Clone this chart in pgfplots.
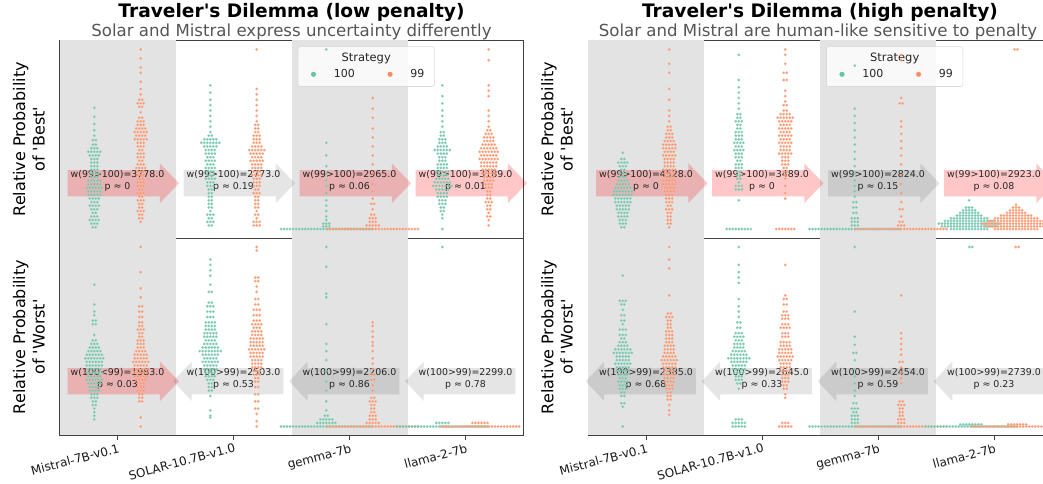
\documentclass[border=0pt]{standalone}
\usepackage{pgfplots}
\usepackage{pgfplotstable}
\pgfplotsset{compat=1.18}
\usepackage{fontspec}
\setmainfont{DejaVu Sans}[Ligatures=TeXOff]
\definecolor{cgreen}{HTML}{66C2A5}
\definecolor{corange}{HTML}{FC8D62}
\definecolor{band}{gray}{0.89}
\definecolor{subgray}{HTML}{555555}

\pgfplotstableread{
dx y
-15 0
-14 0
-13 0
-12 0
-11 0
-10 0
-9 0
-8 0
-7 0
-6 0
-5 0
-4 0
-3 0
-2 0
-1 0
0 0
1 0
2 0
3 0
4 0
5 0
6 0
7 0
8 0
9 0
10 0
11 0
12 0
13 0
14 0
15 0
}\zrow

\pgfplotsset{
 panel/.style={scale only axis, width=464pt, height=197.5pt,
   xmin=-0.5, xmax=3.5, ymin=-0.05, ymax=1.05,
   ytick=\empty, xtick=\empty, clip=false,
   axis line style={black!75, line width=0.9pt}},
 botpanel/.style={panel, xtick={0,1,2,3},
   xticklabels={Mistral-7B-v0.1,SOLAR-10.7B-v1.0,gemma-7b,llama-2-7b},
   xtick align=outside, xtick pos=left, major tick length=4.5pt,
   tick style={black!75, line width=0.9pt},
   xticklabel style={rotate=15, anchor=north east, font=\fontsize{12}{14}\selectfont, text=black!90, inner sep=2pt, xshift=1.5pt, yshift=-1pt}},
 sw/.style 2 args={forget plot, only marks, mark=*, mark size=1.35pt, color=#1,
   mark options={fill=#1, draw=#1!60!white, line width=0.2pt}, opacity=0.9,
   x filter/.expression={#2+0.026*x}},
 toplegend/.style={legend style={at={(0.542,0.829)}, anchor=west, draw=none, fill=none,
   inner sep=0pt, legend columns=2, font=\fontsize{11}{13}\selectfont, text=black!85,
   /tikz/every odd column/.append style={column sep=16pt},
   /tikz/every even column/.append style={column sep=31pt}},
   legend image code/.code={\draw[##1] plot coordinates {(0pt,0pt)};}},
}
\tikzset{
 redA/.style={fill=red, fill opacity=0.22},
 grayA/.style={fill=black, fill opacity=0.1},
 atext/.style={align=center, font=\fontsize{9.4}{11.6}\selectfont, text=black!85, inner sep=0pt},
}
\newcommand{\rarr}[5]{%
 \fill[#2] (axis cs:{#1-0.43},{#3-0.073}) -- (axis cs:{#1+0.365},{#3-0.073}) -- (axis cs:{#1+0.365},{#3-0.11}) -- (axis cs:{#1+0.53},{#3}) -- (axis cs:{#1+0.365},{#3+0.11}) -- (axis cs:{#1+0.365},{#3+0.073}) -- (axis cs:{#1-0.43},{#3+0.073}) -- cycle;
 \node[atext] at (axis cs:{#1},{#3+0.013}) {#4\\#5};}
\newcommand{\larr}[5]{%
 \fill[#2] (axis cs:{#1+0.43},{#3-0.073}) -- (axis cs:{#1-0.36},{#3-0.073}) -- (axis cs:{#1-0.36},{#3-0.11}) -- (axis cs:{#1-0.52},{#3}) -- (axis cs:{#1-0.36},{#3+0.11}) -- (axis cs:{#1-0.36},{#3+0.073}) -- (axis cs:{#1+0.43},{#3+0.073}) -- cycle;
 \node[atext] at (axis cs:{#1},{#3+0.013}) {#4\\#5};}
\newcommand{\bands}{%
 \fill[band] (axis cs:-0.5,-0.05) rectangle (axis cs:0.5,1.05);
 \fill[band] (axis cs:1.5,-0.05) rectangle (axis cs:2.5,1.05);}
\newcommand{\legbox}{%
 \draw[rounded corners=2.5pt, fill=white, fill opacity=0.8, draw=black!15, line width=0.6pt] (rel axis cs:0.514,0.767) rectangle (rel axis cs:0.808,0.969);
 \node[anchor=base, font=\fontsize{11.5}{13}\selectfont, text=black!85] at (rel axis cs:0.661,0.893) {Strategy};
 \addlegendimage{only marks, mark=*, mark size=2.3pt, color=cgreen}
 \addlegendentry{100}
 \addlegendimage{only marks, mark=*, mark size=2.3pt, color=corange}
 \addlegendentry{99}}

\begin{document}
\begin{tikzpicture}
%% ================= TOP LEFT =================
\begin{axis}[panel, toplegend, at={(59.5pt,246pt)}, anchor=south west]
\bands
% Mistral 100
\addplot[sw={cgreen}{-0.2}] coordinates {
(0,0.675)(0,0.625)(0,0.585)(0,0.55)(0,0.52)
(-0.5,0.495)(0.5,0.495)(-0.5,0.47)(0.5,0.47)
(-1,0.45)(0,0.45)(1,0.45)
(-2,0.43)(-1,0.43)(0,0.43)(1,0.43)(2,0.43)
(-1.5,0.41)(-0.5,0.41)(0.5,0.41)(1.5,0.41)
(-1,0.39)(0,0.39)(1,0.39)
(-1,0.37)(0,0.37)(1,0.37)
(-1,0.35)(0,0.35)(1,0.35)
(-1,0.33)(0,0.33)(1,0.33)
(-1.5,0.31)(-0.5,0.31)(0.5,0.31)(1.5,0.31)
(-1,0.29)(0,0.29)(1,0.29)
(-2,0.27)(-1,0.27)(0,0.27)(1,0.27)(2,0.27)
(-2,0.25)(-1,0.25)(0,0.25)(1,0.25)(2,0.25)
(-2.5,0.23)(-1.5,0.23)(-0.5,0.23)(0.5,0.23)(1.5,0.23)(2.5,0.23)
(-2,0.21)(-1,0.21)(0,0.21)(1,0.21)(2,0.21)
(-2,0.19)(-1,0.19)(0,0.19)(1,0.19)(2,0.19)
(-1.5,0.17)(-0.5,0.17)(0.5,0.17)(1.5,0.17)
(-1,0.15)(0,0.15)(1,0.15)
(-1.5,0.13)(-0.5,0.13)(0.5,0.13)(1.5,0.13)
(-1,0.11)(0,0.11)(1,0.11)
(-0.5,0.09)(0.5,0.09)
(-1,0.07)(0,0.07)(1,0.07)
(-1.5,0.05)(-0.5,0.05)(0.5,0.05)(1.5,0.05)
(-1,0.03)(0,0.03)(1,0.03)
(-0.5,0.01)(0.5,0.01)};
% Mistral 99
\addplot[sw={corange}{0.2}] coordinates {
(0,1)(0,0.95)(0,0.9)(0,0.87)(0,0.82)(0,0.78)(0,0.75)
(-0.5,0.72)(0.5,0.72)(-1,0.7)(0,0.7)(1,0.7)(-0.5,0.68)(0.5,0.68)(0,0.65)
(-0.5,0.62)(0.5,0.62)(-1,0.6)(0,0.6)(1,0.6)(-1,0.58)(0,0.58)(1,0.58)
(-1.5,0.56)(-0.5,0.56)(0.5,0.56)(1.5,0.56)
(-2,0.54)(-1,0.54)(0,0.54)(1,0.54)(2,0.54)
(-1.5,0.52)(-0.5,0.52)(0.5,0.52)(1.5,0.52)
(-2,0.5)(-1,0.5)(0,0.5)(1,0.5)(2,0.5)
(-1,0.48)(0,0.48)(1,0.48)(-1,0.46)(0,0.46)(1,0.46)(-0.5,0.44)(0.5,0.44)
(-1,0.42)(0,0.42)(1,0.42)(-1,0.4)(0,0.4)(1,0.4)(-0.5,0.38)(0.5,0.38)
(-1,0.36)(0,0.36)(1,0.36)(-1.5,0.34)(-0.5,0.34)(0.5,0.34)(1.5,0.34)
(-1,0.32)(0,0.32)(1,0.32)(-1,0.3)(0,0.3)(1,0.3)(-0.5,0.28)(0.5,0.28)
(-1,0.26)(0,0.26)(1,0.26)(-1,0.24)(0,0.24)(1,0.24)(-0.5,0.22)(0.5,0.22)
(-1,0.2)(0,0.2)(1,0.2)(-0.5,0.18)(0.5,0.18)(-1,0.16)(0,0.16)(1,0.16)
(-0.5,0.14)(0.5,0.14)(-0.5,0.12)(0.5,0.12)(-1,0.1)(0,0.1)(1,0.1)
(-0.5,0.08)(0.5,0.08)(-0.5,0.06)(0.5,0.06)(0,0.04)};
% SOLAR 100
\addplot[sw={cgreen}{0.8}] coordinates {
(0,0.8)(0,0.76)(0,0.72)(0,0.69)(0,0.66)(0,0.63)(0,0.6)(0,0.57)(0,0.54)
(-0.5,0.52)(0.5,0.52)
(-2,0.5)(-1,0.5)(0,0.5)(1,0.5)(2,0.5)
(-3,0.48)(-2,0.48)(-1,0.48)(0,0.48)(1,0.48)(2,0.48)(3,0.48)
(-2,0.46)(-1,0.46)(0,0.46)(1,0.46)(2,0.46)
(-1.5,0.44)(-0.5,0.44)(0.5,0.44)(1.5,0.44)
(-1.5,0.42)(-0.5,0.42)(0.5,0.42)(1.5,0.42)
(-1,0.4)(0,0.4)(1,0.4)
(-1.5,0.38)(-0.5,0.38)(0.5,0.38)(1.5,0.38)
(-1,0.36)(0,0.36)(1,0.36)
(-1.5,0.34)(-0.5,0.34)(0.5,0.34)(1.5,0.34)
(-1,0.32)(0,0.32)(1,0.32)(-1,0.3)(0,0.3)(1,0.3)
(-1.5,0.28)(-0.5,0.28)(0.5,0.28)(1.5,0.28)
(-1,0.26)(0,0.26)(1,0.26)(-1,0.24)(0,0.24)(1,0.24)
(-0.5,0.22)(0.5,0.22)(-0.5,0.2)(0.5,0.2)(-0.5,0.18)(0.5,0.18)
(-0.5,0.16)(0.5,0.16)(-0.5,0.14)(0.5,0.14)(-0.5,0.12)(0.5,0.12)(0,0.1)
(-1,0.08)(0,0.08)(1,0.08)(-0.5,0.06)(0.5,0.06)(-1,0.04)(0,0.04)(1,0.04)(-0.5,0.02)(0.5,0.02)};
% SOLAR 99
\addplot[sw={corange}{1.2}] coordinates {
(0,1)(0,0.78)(0,0.75)(0,0.72)(0,0.69)(0,0.66)(0,0.63)(0,0.6)
(-0.5,0.58)(0.5,0.58)(-0.5,0.56)(0.5,0.56)(-0.5,0.54)(0.5,0.54)
(-1,0.52)(0,0.52)(1,0.52)(-1,0.5)(0,0.5)(1,0.5)(-1,0.48)(0,0.48)(1,0.48)
(-1.5,0.46)(-0.5,0.46)(0.5,0.46)(1.5,0.46)
(-2.5,0.44)(-1.5,0.44)(-0.5,0.44)(0.5,0.44)(1.5,0.44)(2.5,0.44)
(-2,0.42)(-1,0.42)(0,0.42)(1,0.42)(2,0.42)
(-1.5,0.4)(-0.5,0.4)(0.5,0.4)(1.5,0.4)
(-2,0.38)(-1,0.38)(0,0.38)(1,0.38)(2,0.38)
(-1.5,0.36)(-0.5,0.36)(0.5,0.36)(1.5,0.36)
(-1.5,0.34)(-0.5,0.34)(0.5,0.34)(1.5,0.34)
(-1,0.32)(0,0.32)(1,0.32)
(-1.5,0.3)(-0.5,0.3)(0.5,0.3)(1.5,0.3)
(-1,0.28)(0,0.28)(1,0.28)(-1,0.26)(0,0.26)(1,0.26)(-1,0.24)(0,0.24)(1,0.24)
(-0.5,0.22)(0.5,0.22)(-1,0.2)(0,0.2)(1,0.2)(-0.5,0.18)(0.5,0.18)
(-0.5,0.16)(0.5,0.16)(-0.5,0.14)(0.5,0.14)(-0.5,0.12)(0.5,0.12)(0,0.1)
(-0.5,0.08)(0.5,0.08)(0,0.06)(-1,0.04)(0,0.04)(1,0.04)(-1,0.02)(0,0.02)(1,0.02)};
% gemma 100
\addplot[sw={cgreen}{1.8}] coordinates {
(0,1)(0,0.48)(0,0.41)(0,0.35)(0,0.31)(0,0.27)(0,0.24)(0,0.2)(0,0.16)(0,0.13)(0,0.1)(0,0.07)(0,0.05)
(-1,0.03)(0,0.03)(1,0.03)(-1,0.015)(0,0.015)(1,0.015)};
\addplot[sw={cgreen}{1.8}] table[x=dx,y=y] {\zrow};
% gemma 99
\addplot[sw={corange}{2.2}] coordinates {
(0,0.73)(0,0.67)(0,0.62)(0,0.56)(0,0.51)(0,0.46)(0,0.41)(0,0.36)(0,0.31)(0,0.25)(0,0.21)(0,0.17)
(-0.5,0.14)(0.5,0.14)(0,0.11)(-0.5,0.08)(0.5,0.08)(-1,0.06)(0,0.06)(1,0.06)(-1,0.04)(0,0.04)(1,0.04)
(-2,0.02)(-1,0.02)(0,0.02)(1,0.02)(2,0.02)};
\addplot[sw={corange}{2.2}] table[x=dx,y=y] {\zrow};
% llama 100
\addplot[sw={cgreen}{2.8}] coordinates {
(0,0.8)(0,0.74)(0,0.7)(0,0.66)(0,0.63)(0,0.6)(0,0.57)
(-0.5,0.54)(0.5,0.54)(-0.5,0.52)(0.5,0.52)(-1,0.5)(0,0.5)(1,0.5)(-1,0.48)(0,0.48)(1,0.48)
(-1.5,0.46)(-0.5,0.46)(0.5,0.46)(1.5,0.46)
(-2.5,0.44)(-1.5,0.44)(-0.5,0.44)(0.5,0.44)(1.5,0.44)(2.5,0.44)
(-1.5,0.42)(-0.5,0.42)(0.5,0.42)(1.5,0.42)
(-1,0.4)(0,0.4)(1,0.4)(-1,0.38)(0,0.38)(1,0.38)
(-1.5,0.36)(-0.5,0.36)(0.5,0.36)(1.5,0.36)(-1.5,0.34)(-0.5,0.34)(0.5,0.34)(1.5,0.34)
(-2,0.32)(-1,0.32)(0,0.32)(1,0.32)(2,0.32)
(-1.5,0.3)(-0.5,0.3)(0.5,0.3)(1.5,0.3)
(-2,0.28)(-1,0.28)(0,0.28)(1,0.28)(2,0.28)
(-2.5,0.26)(-1.5,0.26)(-0.5,0.26)(0.5,0.26)(1.5,0.26)(2.5,0.26)
(-3,0.24)(-2,0.24)(-1,0.24)(0,0.24)(1,0.24)(2,0.24)(3,0.24)
(-2,0.22)(-1,0.22)(0,0.22)(1,0.22)(2,0.22)
(-1.5,0.2)(-0.5,0.2)(0.5,0.2)(1.5,0.2)(-1.5,0.18)(-0.5,0.18)(0.5,0.18)(1.5,0.18)
(-1,0.16)(0,0.16)(1,0.16)(-1,0.14)(0,0.14)(1,0.14)
(-0.5,0.12)(0.5,0.12)(-0.5,0.1)(0.5,0.1)(0,0.08)(0,0.06)(0,0)};
% llama 99
\addplot[sw={corange}{3.2}] coordinates {
(0,1)(0,0.94)(0,0.8)(0,0.77)(0,0.74)(0,0.66)(0,0.63)(0,0.6)(0,0.57)
(-0.5,0.55)(0.5,0.55)(-1,0.53)(0,0.53)(1,0.53)
(-1.5,0.51)(-0.5,0.51)(0.5,0.51)(1.5,0.51)(-1.5,0.49)(-0.5,0.49)(0.5,0.49)(1.5,0.49)
(-2,0.47)(-1,0.47)(0,0.47)(1,0.47)(2,0.47)
(-2.5,0.45)(-1.5,0.45)(-0.5,0.45)(0.5,0.45)(1.5,0.45)(2.5,0.45)
(-3,0.43)(-2,0.43)(-1,0.43)(0,0.43)(1,0.43)(2,0.43)(3,0.43)
(-2.5,0.41)(-1.5,0.41)(-0.5,0.41)(0.5,0.41)(1.5,0.41)(2.5,0.41)
(-3,0.39)(-2,0.39)(-1,0.39)(0,0.39)(1,0.39)(2,0.39)(3,0.39)
(-2.5,0.37)(-1.5,0.37)(-0.5,0.37)(0.5,0.37)(1.5,0.37)(2.5,0.37)
(-2.5,0.35)(-1.5,0.35)(-0.5,0.35)(0.5,0.35)(1.5,0.35)(2.5,0.35)
(-2,0.33)(-1,0.33)(0,0.33)(1,0.33)(2,0.33)(-2,0.31)(-1,0.31)(0,0.31)(1,0.31)(2,0.31)
(-1.5,0.29)(-0.5,0.29)(0.5,0.29)(1.5,0.29)(-1.5,0.27)(-0.5,0.27)(0.5,0.27)(1.5,0.27)
(-1,0.25)(0,0.25)(1,0.25)(-1,0.23)(0,0.23)(1,0.23)
(-0.5,0.21)(0.5,0.21)(-0.5,0.19)(0.5,0.19)(-0.5,0.17)(0.5,0.17)(-1,0.15)(0,0.15)(1,0.15)
(-0.5,0.13)(0.5,0.13)(-0.5,0.11)(0.5,0.11)(0,0.09)(-0.5,0.07)(0.5,0.07)(0,0.05)(0,0.02)};
\rarr{0}{redA}{0.255}{w(99>100)=3778.0}{p ≈ 0}
\rarr{1}{grayA}{0.255}{w(99>100)=2773.0}{p ≈ 0.19}
\rarr{2}{redA}{0.255}{w(99>100)=2965.0}{p ≈ 0.06}
\rarr{3}{redA}{0.255}{w(99>100)=3189.0}{p ≈ 0.01}
\legbox
\end{axis}

%% ================= BOTTOM LEFT =================
\begin{axis}[botpanel, at={(59.5pt,48.5pt)}, anchor=south west]
\bands
\addplot[sw={cgreen}{-0.2}] coordinates {
(0,0.79)(0,0.68)(0,0.64)(0,0.62)(-0.5,0.59)(0.5,0.59)(-0.5,0.57)(0.5,0.57)(0,0.51)
(-0.5,0.48)(0.5,0.48)(-1,0.46)(0,0.46)(1,0.46)(-1.5,0.44)(-0.5,0.44)(0.5,0.44)(1.5,0.44)
(-2,0.42)(-1,0.42)(0,0.42)(1,0.42)(2,0.42)
(-2.5,0.4)(-1.5,0.4)(-0.5,0.4)(0.5,0.4)(1.5,0.4)(2.5,0.4)
(-3,0.38)(-2,0.38)(-1,0.38)(0,0.38)(1,0.38)(2,0.38)(3,0.38)
(-2.5,0.36)(-1.5,0.36)(-0.5,0.36)(0.5,0.36)(1.5,0.36)(2.5,0.36)
(-2.5,0.34)(-1.5,0.34)(-0.5,0.34)(0.5,0.34)(1.5,0.34)(2.5,0.34)
(-2,0.32)(-1,0.32)(0,0.32)(1,0.32)(2,0.32)
(-2.5,0.3)(-1.5,0.3)(-0.5,0.3)(0.5,0.3)(1.5,0.3)(2.5,0.3)
(-2,0.28)(-1,0.28)(0,0.28)(1,0.28)(2,0.28)
(-2.5,0.26)(-1.5,0.26)(-0.5,0.26)(0.5,0.26)(1.5,0.26)(2.5,0.26)
(-2,0.24)(-1,0.24)(0,0.24)(1,0.24)(2,0.24)
(-1.5,0.22)(-0.5,0.22)(0.5,0.22)(1.5,0.22)(-1.5,0.2)(-0.5,0.2)(0.5,0.2)(1.5,0.2)
(-1,0.18)(0,0.18)(1,0.18)(-1,0.16)(0,0.16)(1,0.16)
(-0.5,0.14)(0.5,0.14)(-0.5,0.12)(0.5,0.12)(0,0.1)(0,0.08)(0,0.06)(0,0.04)};
\addplot[sw={corange}{0.2}] coordinates {
(0,1)(0,0.86)(0,0.77)(0,0.72)(-0.5,0.67)(0.5,0.67)(-0.5,0.64)(0.5,0.64)(-0.5,0.61)(0.5,0.61)
(-0.5,0.58)(0.5,0.58)(-0.5,0.56)(0.5,0.56)(-1,0.54)(0,0.54)(1,0.54)(-0.5,0.52)(0.5,0.52)(-0.5,0.5)(0.5,0.5)
(-1,0.48)(0,0.48)(1,0.48)(-1,0.46)(0,0.46)(1,0.46)(-1,0.44)(0,0.44)(1,0.44)
(-1.5,0.42)(-0.5,0.42)(0.5,0.42)(1.5,0.42)
(-2,0.4)(-1,0.4)(0,0.4)(1,0.4)(2,0.4)(-2,0.38)(-1,0.38)(0,0.38)(1,0.38)(2,0.38)
(-2.5,0.36)(-1.5,0.36)(-0.5,0.36)(0.5,0.36)(1.5,0.36)(2.5,0.36)
(-2,0.34)(-1,0.34)(0,0.34)(1,0.34)(2,0.34)
(-2.5,0.32)(-1.5,0.32)(-0.5,0.32)(0.5,0.32)(1.5,0.32)(2.5,0.32)
(-2,0.3)(-1,0.3)(0,0.3)(1,0.3)(2,0.3)(-2,0.28)(-1,0.28)(0,0.28)(1,0.28)(2,0.28)
(-1.5,0.26)(-0.5,0.26)(0.5,0.26)(1.5,0.26)
(-1,0.24)(0,0.24)(1,0.24)(-1,0.22)(0,0.22)(1,0.22)(-1,0.2)(0,0.2)(1,0.2)
(-0.5,0.18)(0.5,0.18)(-0.5,0.16)(0.5,0.16)(-0.5,0.14)(0.5,0.14)(0,0.05)(0,0)};
\addplot[sw={cgreen}{0.8}] coordinates {
(0,0.93)(0,0.9)(0,0.87)(0,0.84)(0,0.79)(-0.5,0.75)(0.5,0.75)(-0.5,0.69)(0.5,0.69)
(-1,0.67)(0,0.67)(1,0.67)(-1,0.64)(0,0.64)(1,0.64)(-1,0.61)(0,0.61)(1,0.61)
(-1.5,0.58)(-0.5,0.58)(0.5,0.58)(1.5,0.58)(-1.5,0.56)(-0.5,0.56)(0.5,0.56)(1.5,0.56)
(-1.5,0.54)(-0.5,0.54)(0.5,0.54)(1.5,0.54)
(-2,0.52)(-1,0.52)(0,0.52)(1,0.52)(2,0.52)(-2,0.5)(-1,0.5)(0,0.5)(1,0.5)(2,0.5)
(-1.5,0.48)(-0.5,0.48)(0.5,0.48)(1.5,0.48)
(-2,0.46)(-1,0.46)(0,0.46)(1,0.46)(2,0.46)
(-2.5,0.44)(-1.5,0.44)(-0.5,0.44)(0.5,0.44)(1.5,0.44)(2.5,0.44)
(-3.5,0.42)(-2.5,0.42)(-1.5,0.42)(-0.5,0.42)(0.5,0.42)(1.5,0.42)(2.5,0.42)(3.5,0.42)
(-2.5,0.4)(-1.5,0.4)(-0.5,0.4)(0.5,0.4)(1.5,0.4)(2.5,0.4)
(-2,0.38)(-1,0.38)(0,0.38)(1,0.38)(2,0.38)
(-2.5,0.36)(-1.5,0.36)(-0.5,0.36)(0.5,0.36)(1.5,0.36)(2.5,0.36)
(-2,0.34)(-1,0.34)(0,0.34)(1,0.34)(2,0.34)(-2,0.32)(-1,0.32)(0,0.32)(1,0.32)(2,0.32)
(-1.5,0.3)(-0.5,0.3)(0.5,0.3)(1.5,0.3)(-1.5,0.28)(-0.5,0.28)(0.5,0.28)(1.5,0.28)
(-1,0.26)(0,0.26)(1,0.26)(-0.5,0.24)(0.5,0.24)(-0.5,0.22)(0.5,0.22)(-0.5,0.2)(0.5,0.2)
(0,0.17)(0,0.09)(0,0.06)(0,0.05)};
\addplot[sw={corange}{1.2}] coordinates {
(0,1)(0,0.98)(-0.5,0.83)(0.5,0.83)(-0.5,0.81)(0.5,0.81)(0,0.78)(0,0.75)
(-0.5,0.71)(0.5,0.71)(-0.5,0.68)(0.5,0.68)(-1,0.65)(0,0.65)(1,0.65)(-1,0.62)(0,0.62)(1,0.62)
(-1,0.59)(0,0.59)(1,0.59)(-1.5,0.57)(-0.5,0.57)(0.5,0.57)(1.5,0.57)(-1,0.55)(0,0.55)(1,0.55)
(-1.5,0.53)(-0.5,0.53)(0.5,0.53)(1.5,0.53)(-1.5,0.51)(-0.5,0.51)(0.5,0.51)(1.5,0.51)
(-2,0.49)(-1,0.49)(0,0.49)(1,0.49)(2,0.49)(-2,0.47)(-1,0.47)(0,0.47)(1,0.47)(2,0.47)
(-2,0.45)(-1,0.45)(0,0.45)(1,0.45)(2,0.45)
(-2.5,0.43)(-1.5,0.43)(-0.5,0.43)(0.5,0.43)(1.5,0.43)(2.5,0.43)
(-2,0.41)(-1,0.41)(0,0.41)(1,0.41)(2,0.41)(-2,0.39)(-1,0.39)(0,0.39)(1,0.39)(2,0.39)
(-1.5,0.37)(-0.5,0.37)(0.5,0.37)(1.5,0.37)(-1.5,0.35)(-0.5,0.35)(0.5,0.35)(1.5,0.35)
(-1.5,0.33)(-0.5,0.33)(0.5,0.33)(1.5,0.33)
(-1,0.31)(0,0.31)(1,0.31)(-1,0.29)(0,0.29)(1,0.29)
(-0.5,0.27)(0.5,0.27)(-0.5,0.25)(0.5,0.25)(-0.5,0.22)(0.5,0.22)(-0.5,0.18)(0.5,0.18)
(-0.5,0.14)(0.5,0.14)(-0.5,0.1)(0.5,0.1)(0,0.07)(0,0.03)(0,0)};
\addplot[sw={cgreen}{1.8}] coordinates {
(0,1)(0,0.89)(0,0.74)(0,0.72)(0,0.57)(0,0.46)(0,0.42)(0,0.37)(0,0.31)(0,0.25)(0,0.2)(0,0.14)(0,0.09)
(-0.5,0.06)(0.5,0.06)(-2,0.04)(-1,0.04)(0,0.04)(1,0.04)(2,0.04)
(-3,0.02)(-2,0.02)(-1,0.02)(0,0.02)(1,0.02)(2,0.02)(3,0.02)};
\addplot[sw={cgreen}{1.8}] table[x=dx,y=y] {\zrow};
\addplot[sw={corange}{2.2}] coordinates {
(0,0.58)(0,0.56)(0,0.53)(0,0.5)(0,0.47)(0,0.45)(0,0.42)(0,0.38)(0,0.35)(0,0.32)
(-0.5,0.29)(0.5,0.29)(-0.5,0.26)(0.5,0.26)(0,0.23)(0,0.2)(-0.5,0.16)(0.5,0.16)
(-1,0.14)(0,0.14)(1,0.14)(-0.5,0.12)(0.5,0.12)(-0.5,0.1)(0.5,0.1)(-0.5,0.08)(0.5,0.08)
(-1,0.06)(0,0.06)(1,0.06)(-1,0.04)(0,0.04)(1,0.04)(-2,0.02)(-1,0.02)(0,0.02)(1,0.02)(2,0.02)};
\addplot[sw={corange}{2.2}] table[x=dx,y=y] {\zrow};
\addplot[sw={cgreen}{2.8}] coordinates {
(0,1)(-2,0.02)(-1,0.02)(0,0.02)(1,0.02)(2,0.02)};
\addplot[sw={cgreen}{2.8}] table[x=dx,y=y] {\zrow};
\addplot[sw={corange}{3.125}] coordinates {
(-2.5,0.02)(-1.5,0.02)(-0.5,0.02)(0.5,0.02)(1.5,0.02)(2.5,0.02)
(-13,0)(-12,0)(-11,0)(-10,0)(-9,0)(-8,0)(-7,0)(-6,0)(-5,0)(-4,0)(-3,0)(-2,0)(-1,0)(0,0)
(1,0)(2,0)(3,0)(4,0)(5,0)(6,0)(7,0)(8,0)(9,0)(10,0)(11,0)(12,0)(13,0)};
\rarr{0}{redA}{0.252}{w(100<99)=1983.0}{p ≈ 0.03}
\larr{1}{grayA}{0.252}{w(100>99)=2503.0}{p ≈ 0.53}
\larr{2}{grayA}{0.252}{w(100>99)=2206.0}{p ≈ 0.86}
\larr{3}{grayA}{0.252}{w(100>99)=2299.0}{p ≈ 0.78}
\end{axis}

%% ================= TOP RIGHT =================
\begin{axis}[panel, toplegend, at={(588pt,246pt)}, anchor=south west]
\bands
\addplot[sw={cgreen}{-0.2}] coordinates {
(0,0.425)(-0.5,0.39)(0.5,0.39)(-1.5,0.37)(-0.5,0.37)(0.5,0.37)(1.5,0.37)(-1,0.35)(0,0.35)(1,0.35)
(-0.5,0.33)(0.5,0.33)(-1,0.31)(0,0.31)(1,0.31)(-1,0.29)(0,0.29)(1,0.29)
(-1.5,0.27)(-0.5,0.27)(0.5,0.27)(1.5,0.27)(-2,0.25)(-1,0.25)(0,0.25)(1,0.25)(2,0.25)
(-2.5,0.23)(-1.5,0.23)(-0.5,0.23)(0.5,0.23)(1.5,0.23)(2.5,0.23)
(-3,0.21)(-2,0.21)(-1,0.21)(0,0.21)(1,0.21)(2,0.21)(3,0.21)
(-3,0.19)(-2,0.19)(-1,0.19)(0,0.19)(1,0.19)(2,0.19)(3,0.19)
(-2.5,0.17)(-1.5,0.17)(-0.5,0.17)(0.5,0.17)(1.5,0.17)(2.5,0.17)
(-2.5,0.15)(-1.5,0.15)(-0.5,0.15)(0.5,0.15)(1.5,0.15)(2.5,0.15)
(-2,0.13)(-1,0.13)(0,0.13)(1,0.13)(2,0.13)(-2,0.11)(-1,0.11)(0,0.11)(1,0.11)(2,0.11)
(-1.5,0.09)(-0.5,0.09)(0.5,0.09)(1.5,0.09)(-1.5,0.07)(-0.5,0.07)(0.5,0.07)(1.5,0.07)
(-1,0.05)(0,0.05)(1,0.05)(-1,0.03)(0,0.03)(1,0.03)(-0.5,0.01)(0.5,0.01)};
\addplot[sw={corange}{0.2}] coordinates {
(0,1)(0,0.92)(0,0.87)(0,0.78)(0,0.72)(0,0.66)(0,0.63)(0,0.6)
(-0.5,0.57)(0.5,0.57)(-0.5,0.55)(0.5,0.55)(-1,0.53)(0,0.53)(1,0.53)(-1,0.51)(0,0.51)(1,0.51)
(-1.5,0.49)(-0.5,0.49)(0.5,0.49)(1.5,0.49)
(-2,0.47)(-1,0.47)(0,0.47)(1,0.47)(2,0.47)(-2,0.45)(-1,0.45)(0,0.45)(1,0.45)(2,0.45)
(-1.5,0.43)(-0.5,0.43)(0.5,0.43)(1.5,0.43)(-2,0.41)(-1,0.41)(0,0.41)(1,0.41)(2,0.41)
(-1.5,0.39)(-0.5,0.39)(0.5,0.39)(1.5,0.39)(-1.5,0.37)(-0.5,0.37)(0.5,0.37)(1.5,0.37)
(-1.5,0.35)(-0.5,0.35)(0.5,0.35)(1.5,0.35)(-2,0.33)(-1,0.33)(0,0.33)(1,0.33)(2,0.33)
(-1.5,0.31)(-0.5,0.31)(0.5,0.31)(1.5,0.31)(-1.5,0.29)(-0.5,0.29)(0.5,0.29)(1.5,0.29)
(-2,0.27)(-1,0.27)(0,0.27)(1,0.27)(2,0.27)(-2,0.25)(-1,0.25)(0,0.25)(1,0.25)(2,0.25)
(-1.5,0.23)(-0.5,0.23)(0.5,0.23)(1.5,0.23)(-1.5,0.21)(-0.5,0.21)(0.5,0.21)(1.5,0.21)
(-1,0.19)(0,0.19)(1,0.19)(-1,0.17)(0,0.17)(1,0.17)(-1,0.15)(0,0.15)(1,0.15)
(-0.5,0.13)(0.5,0.13)(-1,0.11)(0,0.11)(1,0.11)(-0.5,0.09)(0.5,0.09)(-0.5,0.07)(0.5,0.07)
(-0.5,0.05)(0.5,0.05)(-0.5,0.03)(0.5,0.03)(0,0.01)};
\addplot[sw={cgreen}{0.8}] coordinates {
(0,0.97)(0,0.83)(0,0.79)(0,0.76)(0,0.73)(0,0.7)(0,0.67)(-0.5,0.64)(0.5,0.64)(-0.5,0.62)(0.5,0.62)
(-1,0.6)(0,0.6)(1,0.6)(-0.5,0.58)(0.5,0.58)(-0.5,0.56)(0.5,0.56)
(-1,0.54)(0,0.54)(1,0.54)(-1,0.52)(0,0.52)(1,0.52)(-1,0.5)(0,0.5)(1,0.5)
(-1.5,0.48)(-0.5,0.48)(0.5,0.48)(1.5,0.48)(-1,0.46)(0,0.46)(1,0.46)
(-1.5,0.44)(-0.5,0.44)(0.5,0.44)(1.5,0.44)(-1,0.42)(0,0.42)(1,0.42)(-1,0.4)(0,0.4)(1,0.4)
(-0.5,0.38)(0.5,0.38)(-1,0.36)(0,0.36)(1,0.36)(-1,0.34)(0,0.34)(1,0.34)
(-0.5,0.32)(0.5,0.32)(-0.5,0.3)(0.5,0.3)(-0.5,0.28)(0.5,0.28)(0,0.26)
(-1,0.24)(0,0.24)(1,0.24)(-1,0.22)(0,0.22)(1,0.22)(0,0.16)
(-4,0)(-3,0)(-2,0)(-1,0)(0,0)(1,0)(2,0)(3,0)(4,0)};
\addplot[sw={corange}{1.2}] coordinates {
(0,1)(0,0.97)(0,0.92)(-0.5,0.87)(0.5,0.87)(-0.5,0.83)(0.5,0.83)(0,0.77)(0,0.74)(0,0.71)
(-0.5,0.69)(0.5,0.69)(-0.5,0.66)(0.5,0.66)(-1.5,0.64)(-0.5,0.64)(0.5,0.64)(1.5,0.64)
(-2.5,0.62)(-1.5,0.62)(-0.5,0.62)(0.5,0.62)(1.5,0.62)(2.5,0.62)
(-2,0.6)(-1,0.6)(0,0.6)(1,0.6)(2,0.6)(-1.5,0.58)(-0.5,0.58)(0.5,0.58)(1.5,0.58)
(-2,0.56)(-1,0.56)(0,0.56)(1,0.56)(2,0.56)(-1.5,0.54)(-0.5,0.54)(0.5,0.54)(1.5,0.54)
(-2,0.52)(-1,0.52)(0,0.52)(1,0.52)(2,0.52)(-1.5,0.5)(-0.5,0.5)(0.5,0.5)(1.5,0.5)
(-2,0.48)(-1,0.48)(0,0.48)(1,0.48)(2,0.48)(-1.5,0.46)(-0.5,0.46)(0.5,0.46)(1.5,0.46)
(-1.5,0.44)(-0.5,0.44)(0.5,0.44)(1.5,0.44)(-2,0.42)(-1,0.42)(0,0.42)(1,0.42)(2,0.42)
(-1,0.4)(0,0.4)(1,0.4)(-1,0.38)(0,0.38)(1,0.38)(-1,0.36)(0,0.36)(1,0.36)
(-0.5,0.34)(0.5,0.34)(-0.5,0.32)(0.5,0.32)(0,0.3)(0,0.28)(0,0.24)(0,0.2)(0,0.17)
(-3,0)(-2,0)(-1,0)(0,0)(1,0)(2,0)(3,0)};
\addplot[sw={cgreen}{1.8}] coordinates {
(0,0.91)(0,0.67)(0,0.63)(0,0.59)(0,0.55)(0,0.51)(0,0.47)(0,0.43)(0,0.39)(0,0.35)(0,0.31)(0,0.27)(0,0.24)(0,0.21)(0,0.18)
(-0.5,0.15)(0.5,0.15)(-0.5,0.12)(0.5,0.12)(-0.5,0.09)(0.5,0.09)
(-1,0.06)(0,0.06)(1,0.06)(-1,0.04)(0,0.04)(1,0.04)(-1,0.02)(0,0.02)(1,0.02)};
\addplot[sw={cgreen}{1.8}] table[x=dx,y=y] {\zrow};
\addplot[sw={corange}{2.2}] coordinates {
(0,0.97)(0,0.94)(0,0.73)(-0.5,0.7)(0.5,0.7)(0,0.6)(0,0.57)(0,0.53)(0,0.49)(0,0.45)(0,0.41)(0,0.36)(0,0.3)(0,0.25)(0,0.2)(0,0.15)
(-0.5,0.11)(0.5,0.11)(0,0.07)(-0.5,0.04)(0.5,0.04)(-1,0.02)(0,0.02)(1,0.02)};
\addplot[sw={corange}{2.2}] table[x=dx,y=y] {\zrow};
\addplot[sw={cgreen}{2.785}] coordinates {
(0,0.16)(-1,0.12)(0,0.12)(1,0.12)(-2,0.105)(-1,0.105)(0,0.105)(1,0.105)(2,0.105)
(-3,0.09)(-2,0.09)(-1,0.09)(0,0.09)(1,0.09)(2,0.09)(3,0.09)
(-4,0.075)(-3,0.075)(-2,0.075)(-1,0.075)(0,0.075)(1,0.075)(2,0.075)(3,0.075)(4,0.075)
(-6,0.06)(-5,0.06)(-4,0.06)(-3,0.06)(-2,0.06)(-1,0.06)(0,0.06)(1,0.06)(2,0.06)(3,0.06)(4,0.06)(5,0.06)(6,0.06)
(-8,0.045)(-7,0.045)(-6,0.045)(-5,0.045)(-4,0.045)(-3,0.045)(-2,0.045)(-1,0.045)(0,0.045)(1,0.045)(2,0.045)(3,0.045)(4,0.045)(5,0.045)(6,0.045)(7,0.045)(8,0.045)
(-10,0.03)(-9,0.03)(-8,0.03)(-7,0.03)(-6,0.03)(-5,0.03)(-4,0.03)(-3,0.03)(-2,0.03)(-1,0.03)(0,0.03)(1,0.03)(2,0.03)(3,0.03)(4,0.03)(5,0.03)(6,0.03)(7,0.03)(8,0.03)(9,0.03)(10,0.03)
(-9,0.015)(-8,0.015)(-7,0.015)(-6,0.015)(-5,0.015)(-4,0.015)(-3,0.015)(-2,0.015)(-1,0.015)(0,0.015)(1,0.015)(2,0.015)(3,0.015)(4,0.015)(5,0.015)(6,0.015)(7,0.015)(8,0.015)(9,0.015)
(-6,0)(-5,0)(-4,0)(-3,0)(-2,0)(-1,0)(0,0)(1,0)(2,0)(3,0)(4,0)(5,0)(6,0)};
\addplot[sw={corange}{3.19}] coordinates {
(-0.5,1)(0.5,1)(0,0.135)(-1,0.12)(0,0.12)(1,0.12)(-2,0.105)(-1,0.105)(0,0.105)(1,0.105)(2,0.105)
(-3,0.09)(-2,0.09)(-1,0.09)(0,0.09)(1,0.09)(2,0.09)(3,0.09)
(-5,0.075)(-4,0.075)(-3,0.075)(-2,0.075)(-1,0.075)(0,0.075)(1,0.075)(2,0.075)(3,0.075)(4,0.075)(5,0.075)
(-7,0.06)(-6,0.06)(-5,0.06)(-4,0.06)(-3,0.06)(-2,0.06)(-1,0.06)(0,0.06)(1,0.06)(2,0.06)(3,0.06)(4,0.06)(5,0.06)(6,0.06)(7,0.06)
(-9,0.045)(-8,0.045)(-7,0.045)(-6,0.045)(-5,0.045)(-4,0.045)(-3,0.045)(-2,0.045)(-1,0.045)(0,0.045)(1,0.045)(2,0.045)(3,0.045)(4,0.045)(5,0.045)(6,0.045)(7,0.045)(8,0.045)(9,0.045)
(-11,0.03)(-10,0.03)(-9,0.03)(-8,0.03)(-7,0.03)(-6,0.03)(-5,0.03)(-4,0.03)(-3,0.03)(-2,0.03)(-1,0.03)(0,0.03)(1,0.03)(2,0.03)(3,0.03)(4,0.03)(5,0.03)(6,0.03)(7,0.03)(8,0.03)(9,0.03)(10,0.03)(11,0.03)
(-10,0.015)(-9,0.015)(-8,0.015)(-7,0.015)(-6,0.015)(-5,0.015)(-4,0.015)(-3,0.015)(-2,0.015)(-1,0.015)(0,0.015)(1,0.015)(2,0.015)(3,0.015)(4,0.015)(5,0.015)(6,0.015)(7,0.015)(8,0.015)(9,0.015)(10,0.015)
(-7,0)(-6,0)(-5,0)(-4,0)(-3,0)(-2,0)(-1,0)(0,0)(1,0)(2,0)(3,0)(4,0)(5,0)(6,0)(7,0)};
\rarr{0}{redA}{0.255}{w(99>100)=4528.0}{p ≈ 0}
\rarr{1}{redA}{0.255}{w(99>100)=3489.0}{p ≈ 0}
\rarr{2}{grayA}{0.255}{w(99>100)=2824.0}{p ≈ 0.15}
\rarr{3}{redA}{0.255}{w(99>100)=2923.0}{p ≈ 0.08}
\legbox
\end{axis}

%% ================= BOTTOM RIGHT =================
\begin{axis}[botpanel, at={(588pt,48.5pt)}, anchor=south west]
\bands
\addplot[sw={cgreen}{-0.2}] coordinates {
(0,0.84)(-1,0.7)(0,0.7)(1,0.7)(-0.5,0.68)(0.5,0.68)(0,0.65)(-0.5,0.62)(0.5,0.62)(-0.5,0.59)(0.5,0.59)(0,0.57)
(-1,0.54)(0,0.54)(1,0.54)(-1,0.51)(0,0.51)(1,0.51)(-0.5,0.49)(0.5,0.49)(-1,0.47)(0,0.47)(1,0.47)
(-1.5,0.45)(-0.5,0.45)(0.5,0.45)(1.5,0.45)
(-2.5,0.43)(-1.5,0.43)(-0.5,0.43)(0.5,0.43)(1.5,0.43)(2.5,0.43)
(-3,0.41)(-2,0.41)(-1,0.41)(0,0.41)(1,0.41)(2,0.41)(3,0.41)
(-2,0.39)(-1,0.39)(0,0.39)(1,0.39)(2,0.39)(-2,0.37)(-1,0.37)(0,0.37)(1,0.37)(2,0.37)
(-2.5,0.35)(-1.5,0.35)(-0.5,0.35)(0.5,0.35)(1.5,0.35)(2.5,0.35)
(-2,0.33)(-1,0.33)(0,0.33)(1,0.33)(2,0.33)(-2,0.31)(-1,0.31)(0,0.31)(1,0.31)(2,0.31)
(-1.5,0.29)(-0.5,0.29)(0.5,0.29)(1.5,0.29)(-1,0.27)(0,0.27)(1,0.27)
(-1.5,0.25)(-0.5,0.25)(0.5,0.25)(1.5,0.25)(-1,0.23)(0,0.23)(1,0.23)(-1,0.21)(0,0.21)(1,0.21)
(-0.5,0.19)(0.5,0.19)(-0.5,0.17)(0.5,0.17)(-0.5,0.13)(0.5,0.13)(0,0.11)(0,0)};
\addplot[sw={corange}{0.2}] coordinates {
(0,1)(0,0.93)(0,0.88)(0,0.73)(-0.5,0.63)(0.5,0.63)(-1,0.61)(0,0.61)(1,0.61)(-0.5,0.59)(0.5,0.59)
(-0.5,0.57)(0.5,0.57)(-0.5,0.55)(0.5,0.55)(-1,0.53)(0,0.53)(1,0.53)(-1,0.51)(0,0.51)(1,0.51)
(-1,0.49)(0,0.49)(1,0.49)(-1,0.47)(0,0.47)(1,0.47)
(-1.5,0.45)(-0.5,0.45)(0.5,0.45)(1.5,0.45)(-1.5,0.43)(-0.5,0.43)(0.5,0.43)(1.5,0.43)
(-1.5,0.41)(-0.5,0.41)(0.5,0.41)(1.5,0.41)(-2,0.39)(-1,0.39)(0,0.39)(1,0.39)(2,0.39)
(-2.5,0.37)(-1.5,0.37)(-0.5,0.37)(0.5,0.37)(1.5,0.37)(2.5,0.37)
(-2,0.35)(-1,0.35)(0,0.35)(1,0.35)(2,0.35)(-2,0.33)(-1,0.33)(0,0.33)(1,0.33)(2,0.33)
(-1.5,0.31)(-0.5,0.31)(0.5,0.31)(1.5,0.31)(-2,0.29)(-1,0.29)(0,0.29)(1,0.29)(2,0.29)
(-1.5,0.27)(-0.5,0.27)(0.5,0.27)(1.5,0.27)(-1.5,0.25)(-0.5,0.25)(0.5,0.25)(1.5,0.25)
(-1,0.23)(0,0.23)(1,0.23)(-1,0.21)(0,0.21)(1,0.21)(-0.5,0.19)(0.5,0.19)(-0.5,0.17)(0.5,0.17)
(-0.5,0.15)(0.5,0.15)(0,0.12)(0,0.09)(0,0.065)};
\addplot[sw={cgreen}{0.8}] coordinates {
(0,1)(0,0.9)(0,0.86)(0,0.83)(0,0.8)(0,0.71)(0,0.67)(0,0.64)(0,0.61)(-0.5,0.58)(0.5,0.58)(-0.5,0.55)(0.5,0.55)
(-1,0.52)(0,0.52)(1,0.52)(-1.5,0.5)(-0.5,0.5)(0.5,0.5)(1.5,0.5)(-1,0.48)(0,0.48)(1,0.48)
(-1.5,0.46)(-0.5,0.46)(0.5,0.46)(1.5,0.46)(-1.5,0.44)(-0.5,0.44)(0.5,0.44)(1.5,0.44)
(-2,0.42)(-1,0.42)(0,0.42)(1,0.42)(2,0.42)
(-2.5,0.4)(-1.5,0.4)(-0.5,0.4)(0.5,0.4)(1.5,0.4)(2.5,0.4)
(-3.5,0.38)(-2.5,0.38)(-1.5,0.38)(-0.5,0.38)(0.5,0.38)(1.5,0.38)(2.5,0.38)(3.5,0.38)
(-2.5,0.36)(-1.5,0.36)(-0.5,0.36)(0.5,0.36)(1.5,0.36)(2.5,0.36)
(-2,0.34)(-1,0.34)(0,0.34)(1,0.34)(2,0.34)(-2,0.32)(-1,0.32)(0,0.32)(1,0.32)(2,0.32)
(-1.5,0.3)(-0.5,0.3)(0.5,0.3)(1.5,0.3)(-1,0.28)(0,0.28)(1,0.28)(-1,0.26)(0,0.26)(1,0.26)
(-0.5,0.24)(0.5,0.24)(0,0.21)
(-1,0.04)(0,0.04)(1,0.04)(-2,0.02)(-1,0.02)(0,0.02)(1,0.02)(2,0.02)(-2,0)(-1,0)(0,0)(1,0)(2,0)};
\addplot[sw={corange}{1.2}] coordinates {
(0,0.9)(0,0.73)(-0.5,0.71)(0.5,0.71)(-0.5,0.68)(0.5,0.68)(-0.5,0.64)(0.5,0.64)
(-1,0.62)(0,0.62)(1,0.62)(-1,0.6)(0,0.6)(1,0.6)(-1,0.57)(0,0.57)(1,0.57)
(-1.5,0.55)(-0.5,0.55)(0.5,0.55)(1.5,0.55)(-1,0.52)(0,0.52)(1,0.52)(-1,0.5)(0,0.5)(1,0.5)
(-1.5,0.47)(-0.5,0.47)(0.5,0.47)(1.5,0.47)(-1.5,0.45)(-0.5,0.45)(0.5,0.45)(1.5,0.45)
(-2,0.43)(-1,0.43)(0,0.43)(1,0.43)(2,0.43)(-2,0.41)(-1,0.41)(0,0.41)(1,0.41)(2,0.41)
(-2.5,0.39)(-1.5,0.39)(-0.5,0.39)(0.5,0.39)(1.5,0.39)(2.5,0.39)
(-2,0.37)(-1,0.37)(0,0.37)(1,0.37)(2,0.37)
(-1.5,0.35)(-0.5,0.35)(0.5,0.35)(1.5,0.35)(-1.5,0.33)(-0.5,0.33)(0.5,0.33)(1.5,0.33)
(-1.5,0.31)(-0.5,0.31)(0.5,0.31)(1.5,0.31)
(-1,0.29)(0,0.29)(1,0.29)(-1,0.27)(0,0.27)(1,0.27)(-1,0.25)(0,0.25)(1,0.25)
(-0.5,0.23)(0.5,0.23)(-0.5,0.21)(0.5,0.21)(0,0.18)(0,0.16)
(-1,0.02)(0,0.02)(1,0.02)(-2,0)(-1,0)(0,0)(1,0)(2,0)};
\addplot[sw={cgreen}{1.8}] coordinates {
(0,1)(0,0.64)(0,0.5)(0,0.455)(-0.5,0.41)(0.5,0.41)(0,0.37)(0,0.32)(0,0.28)(0,0.24)(0,0.2)(0,0.17)
(-0.5,0.13)(0.5,0.13)(-1,0.1)(0,0.1)(1,0.1)(-0.5,0.08)(0.5,0.08)(-1,0.06)(0,0.06)(1,0.06)
(-1,0.04)(0,0.04)(1,0.04)(-1,0.02)(0,0.02)(1,0.02)};
\addplot[sw={cgreen}{1.8}] table[x=dx,y=y] {\zrow};
\addplot[sw={corange}{2.2}] coordinates {
(0,0.73)(0,0.52)(0,0.49)(0,0.46)(0,0.43)(0,0.4)(-0.5,0.36)(0.5,0.36)(0,0.33)(0,0.3)(0,0.27)(0,0.24)
(-0.5,0.14)(0.5,0.14)(-1,0.12)(0,0.12)(1,0.12)(-0.5,0.1)(0.5,0.1)(-0.5,0.08)(0.5,0.08)(-0.5,0.06)(0.5,0.06)
(-1,0.04)(0,0.04)(1,0.04)(-1,0.02)(0,0.02)(1,0.02)};
\addplot[sw={corange}{2.2}] table[x=dx,y=y] {\zrow};
\addplot[sw={cgreen}{2.8}] coordinates {
(-0.5,1)(0.5,1)(-3.5,0.012)(-2.5,0.012)(-1.5,0.012)(-0.5,0.012)(0.5,0.012)(1.5,0.012)(2.5,0.012)(3.5,0.012)};
\addplot[sw={cgreen}{2.8}] table[x=dx,y=y] {\zrow};
\addplot[sw={corange}{3.2}] coordinates {
(-0.5,1)(0.5,1)(-3,0.012)(-2,0.012)(-1,0.012)(0,0.012)(1,0.012)(2,0.012)(3,0.012)};
\addplot[sw={corange}{3.2}] table[x=dx,y=y] {\zrow};
\larr{0}{grayA}{0.252}{w(100>99)=2385.0}{p ≈ 0.68}
\larr{1}{grayA}{0.252}{w(100>99)=2645.0}{p ≈ 0.33}
\larr{2}{grayA}{0.252}{w(100>99)=2454.0}{p ≈ 0.59}
\larr{3}{grayA}{0.252}{w(100>99)=2739.0}{p ≈ 0.23}
\end{axis}

%% ================= TITLES & LABELS =================
\node[anchor=base, font=\fontsize{18.6}{22}\selectfont\bfseries] at (291.5pt,466.7pt) {Traveler's Dilemma (low penalty)};
\node[anchor=base, font=\fontsize{16.6}{20}\selectfont, text=subgray] at (291.5pt,447.3pt) {Solar and Mistral express uncertainty differently};
\node[anchor=base, font=\fontsize{18.6}{22}\selectfont\bfseries] at (820pt,466.7pt) {Traveler's Dilemma (high penalty)};
\node[anchor=base, font=\fontsize{16.6}{20}\selectfont, text=subgray] at (818pt,447.3pt) {Solar and Mistral are human-like sensitive to penalty};

\node[rotate=90, anchor=base, font=\fontsize{16}{19}\selectfont] at (25pt,344.7pt) {Relative Probability};
\node[rotate=90, anchor=base, font=\fontsize{16}{19}\selectfont] at (44.5pt,344.7pt) {of 'Best'};
\node[rotate=90, anchor=base, font=\fontsize{16}{19}\selectfont] at (25pt,147pt) {Relative Probability};
\node[rotate=90, anchor=base, font=\fontsize{16}{19}\selectfont] at (44.5pt,147pt) {of 'Worst'};
\node[rotate=90, anchor=base, font=\fontsize{16}{19}\selectfont] at (553.3pt,344.7pt) {Relative Probability};
\node[rotate=90, anchor=base, font=\fontsize{16}{19}\selectfont] at (572.5pt,344.7pt) {of 'Best'};
\node[rotate=90, anchor=base, font=\fontsize{16}{19}\selectfont] at (553.3pt,147pt) {Relative Probability};
\node[rotate=90, anchor=base, font=\fontsize{16}{19}\selectfont] at (572.5pt,147pt) {of 'Worst'};

\pgfresetboundingbox
\path[use as bounding box] (0pt,0pt) rectangle (1043pt,484pt);
\end{tikzpicture}
\end{document}
